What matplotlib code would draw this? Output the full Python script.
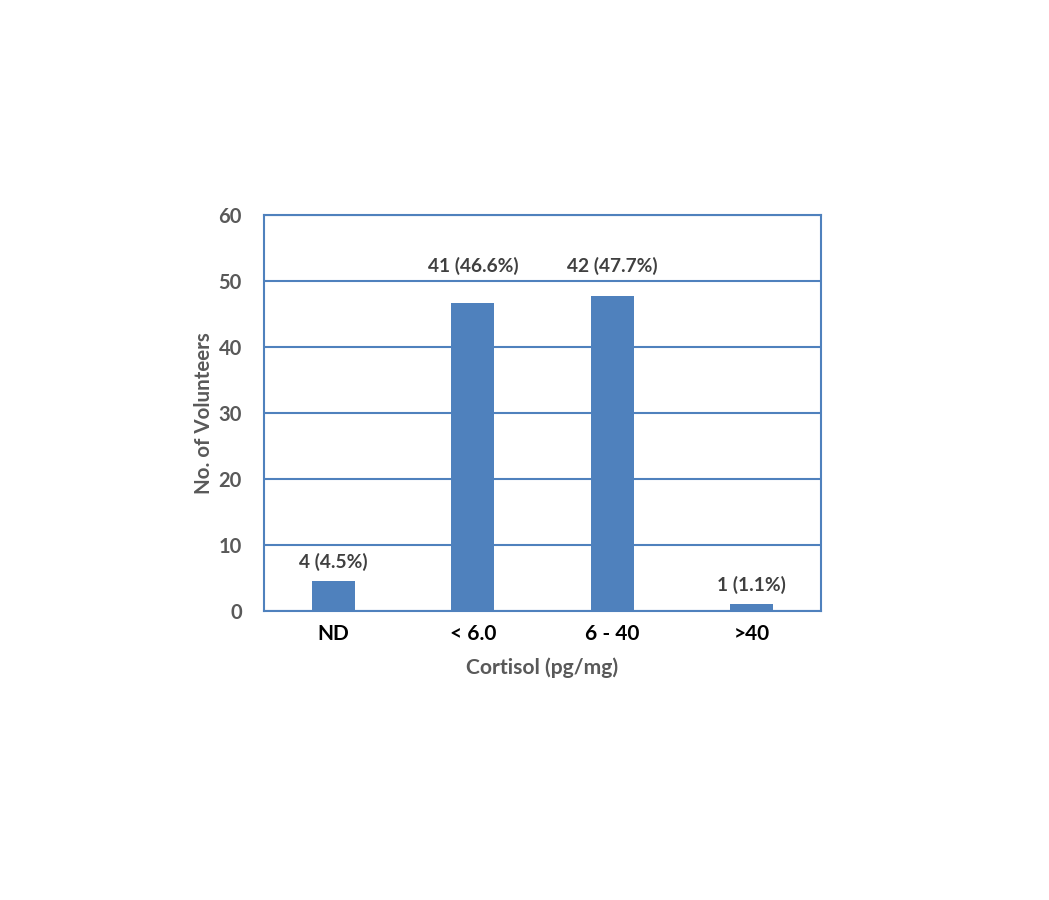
import matplotlib
matplotlib.use("Agg")
import matplotlib.pyplot as plt

categories = ["ND", "< 6.0", "6 - 40", ">40"]
percent = [4.5, 46.6, 47.7, 1.1]
counts = [4, 41, 42, 1]

blue = "#4F81BD"
grey = "#595959"

plt.rcParams['font.family'] = ['Lato', 'DejaVu Sans']

fig = plt.figure(figsize=(10.49, 9), dpi=100)
ax = fig.add_axes([0.2517, 0.3211, 0.531, 0.44])

x = range(len(categories))
ax.bar(x, percent, width=0.31, color=blue, zorder=3)

# the two tall bars share one label row, as in the original
for i, (c, p) in enumerate(zip(counts, percent)):
    y = p + 2.9 if p < 40 else 52.3
    ax.text(i, y, f"{c} ({p}%)", ha="center", va="center",
            fontsize=13.8, fontweight="bold", color="#404040")

ax.set_xlim(-0.5, len(categories) - 0.5)
ax.set_ylim(0, 60)
ax.set_yticks(range(0, 61, 10))
ax.yaxis.grid(True, color=blue, linewidth=1.5, zorder=0)
for s in ax.spines.values():
    s.set_color(blue)
    s.set_linewidth(1.5)

ax.tick_params(axis="both", length=0)
ax.tick_params(axis="y", pad=16, labelsize=14.5, labelcolor=grey)
ax.tick_params(axis="x", pad=9, labelsize=15, labelcolor="black")
ax.set_xticks(list(x))
ax.set_xticklabels(categories, fontweight="bold")
for lab in ax.get_yticklabels():
    lab.set_fontweight("bold")

ax.set_ylabel("No. of Volunteers", fontsize=14.8, fontweight="bold",
              color=grey, labelpad=3)
ax.set_xlabel("Cortisol (pg/mg)", fontsize=15.2, fontweight="bold",
              color=grey, labelpad=10)

fig.savefig("out.png", dpi=100)
